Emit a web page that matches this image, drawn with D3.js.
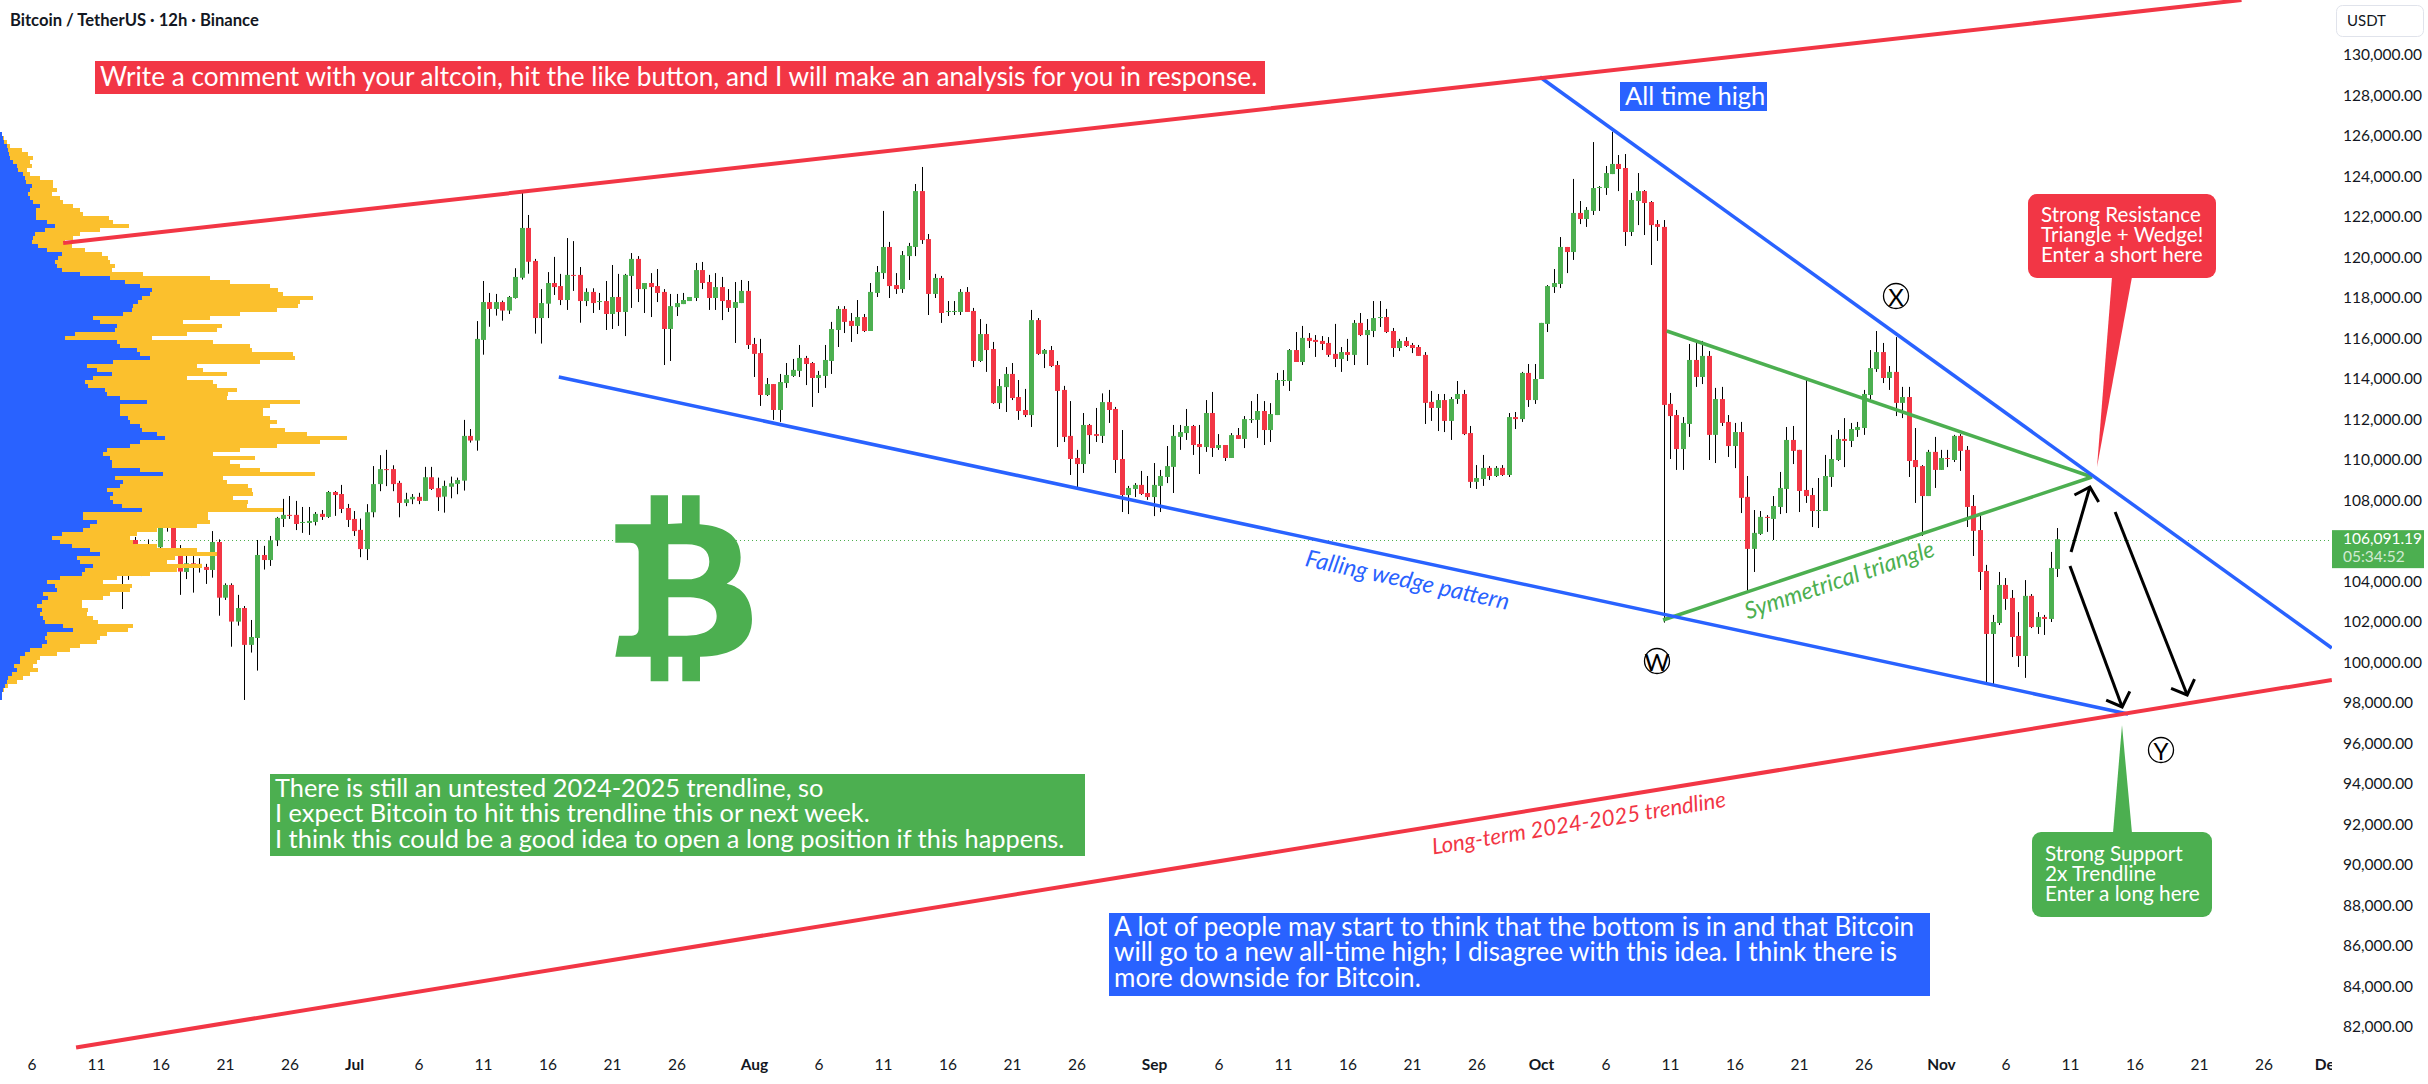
<!DOCTYPE html>
<html>
<head>
<meta charset="utf-8">
<script src="https://cdn.jsdelivr.net/npm/d3@7"></script>
<style>
  body { margin: 0; background: #fff; }
  text { font-family: Lato, "Open Sans", sans-serif; }
</style>
</head>
<body>
<div id="chart"></div>
<script>
//velas 12h, la primera es el 12 jun 12:00 UTC
const firstCandle = "2025-06-12T12:00:00Z"
const opens = [
  106710,106100,105390,106050,105480,105640,105560,105690,107040,106870,
  105640,104470,104900,104870,104720,104570,105950,103200,103830,102020,
  102690,100870,101210,105310,105060,106030,107090,107290,107290,106890,
  106890,106940,107340,107190,108420,108320,107630,107090,106550,105600,
  107420,108810,109550,109550,108870,107880,108060,108180,107980,109150,
  108610,108190,108680,108820,108980,111190,110960,115930,117800,117460,
  117800,117380,118000,119000,121460,119830,117010,117720,118740,118590,
  117900,119140,119140,117850,118300,117800,117850,117210,118050,117310,
  119090,119930,118440,118740,118590,118300,116470,117550,117700,117850,
  118000,119380,118790,118000,118540,117900,117510,117750,118350,115730,
  115280,113210,113750,112470,113800,114150,114400,115040,114790,114050,
  114150,114890,116420,117460,116870,116620,117060,116370,118250,119230,
  120520,118640,118440,120070,120520,123280,120910,118200,118990,117310,
  117310,117310,118300,117360,114890,116220,115480,112810,113600,114250,
  113110,112470,112220,116910,115240,115430,114690,113460,111190,110100,
  109800,111730,111280,111190,112860,112520,110050,108270,108570,108770,
  108370,108170,108720,109160,109660,111140,111330,111680,110790,110640,
  112320,110590,110740,110100,111230,111040,111980,111980,112420,111480,
  112220,113900,113900,115430,114840,116030,115930,115880,115780,115240,
  114990,115330,115190,116770,116170,116370,117010,117060,116370,115530,
  115880,115680,115580,115190,112870,112570,112960,111930,113010,113260,
  111330,108920,109060,109610,109210,109610,109260,112120,112020,114300,
  112960,114000,116720,118540,118690,120520,120270,122200,121900,122300,
  123430,123430,124120,124620,124420,121260,122790,123280,122740,121650,
  121510,112770,112220,110540,111780,114940,114100,115140,111240,113010,
  111880,110690,111380,108180,105610,106350,107190,107090,107680,108570,
  110990,110500,108520,108270,107480,107480,109160,110000,111040,110940,
  111480,111580,113210,114490,115330,114050,114350,112820,113110,110000,
  109700,108220,110400,109510,110100,110000,111190,110500,107730,106540,
  104520,101410,101950,103830,103190,101310,100320,103290,101750,102250,
  102150,104620
]
const highs = [
  106790,106220,106150,106200,105760,106080,105800,107200,107120,107040,
  105800,105310,105260,105150,104870,106490,106080,103910,103910,103340,
  102790,102100,106050,105760,106250,107190,108080,108220,107980,107680,
  107680,107430,107530,108470,108470,108770,107830,107480,107110,107820,
  109700,110240,110500,109740,108970,108380,108320,108380,109660,109660,
  109130,108980,109180,109130,111980,111530,116860,118840,118250,118200,
  117870,118100,119470,123190,122100,119930,118440,119280,120030,119190,
  120960,120810,119530,118480,118480,118250,118840,119630,119190,119190,
  120220,120070,118740,119230,119430,118440,118200,118200,118250,118050,
  119730,119780,119140,119230,119040,118440,118790,118890,118840,116030,
  115980,114050,113750,114250,114790,114990,115680,115140,114840,114400,
  115680,116820,117600,117600,117260,117900,117210,118740,119580,122300,
  120770,119230,120320,120720,123630,124470,121160,119190,119090,117850,
  117850,118440,118540,117510,116960,116720,115830,114000,114590,114790,
  113950,113510,117410,117010,115480,115630,114890,113660,112910,110500,
  112320,111780,112570,113290,113460,112620,111480,108720,108860,109460,
  109210,109850,109510,110690,111730,111730,112520,111730,111730,112960,
  113360,111280,110740,111330,111580,112170,112910,113260,112910,112810,
  114300,114440,115480,116320,116620,116270,116170,116120,116070,116720,
  115580,115980,116910,117260,116960,117850,117850,117460,116520,115980,
  116070,115780,115680,115330,113410,113260,113260,113110,113900,113460,
  111680,109750,110250,109700,109700,109750,112320,112370,114350,114740,
  114740,116770,118640,119430,121010,120520,123880,122790,122490,125700,
  123530,124520,126210,125060,125110,123190,124170,123330,122790,121850,
  121850,113310,112470,112120,115730,115930,115880,115380,113560,113610,
  112220,111830,111880,109210,107530,107480,107280,108220,109410,111630,
  111680,110500,113950,108620,109110,110250,111240,111480,112070,111830,
  111880,113460,115430,116370,115780,114640,116070,113610,113610,111580,
  109750,110500,111140,110500,110500,111240,111280,110690,108270,107280,
  104820,102350,104470,104170,103580,102490,104070,103380,102490,102350,
  105460,106640
]
const lows = [
  105970,102640,104080,104570,104270,104650,104570,105480,106460,105480,
  103340,104120,103450,104440,103880,104190,102310,103090,100780,101820,
  98150,100490,99600,104590,104770,105750,106690,107090,106540,106400,
  106300,106770,107040,107140,107240,107380,106690,106250,105200,105060,
  107170,108460,108710,108460,107170,107720,107820,107820,107980,108520,
  107480,107400,108110,108310,108490,110860,110460,115200,116580,117130,
  116880,117210,117970,118910,119200,116240,115750,117010,118150,117650,
  117410,118350,116780,117600,117260,117410,116420,116470,116620,116120,
  117510,117800,117260,117060,117800,114690,114890,117110,117700,117850,
  117850,118440,117410,117410,116910,117310,115780,117750,115480,114100,
  112670,113160,111980,111880,113560,114100,114100,113700,112620,113310,
  113560,114250,115580,116270,115830,116220,116320,116370,118050,118940,
  118000,118200,118250,118890,120070,120670,117160,118000,116770,117110,
  117160,117160,117310,114590,114840,114350,112770,112520,112370,112960,
  111980,112120,111630,115190,114540,114590,110640,110890,109260,108620,
  109360,110300,110890,110840,111830,109360,107430,107330,108170,108270,
  108030,107230,107430,108860,108370,110500,110990,110250,109310,110400,
  110150,110500,109950,110100,111040,110590,111830,111090,110740,110890,
  112220,113660,113410,114840,114690,115530,115090,115430,115090,114590,
  114350,114890,114690,116120,114690,116070,116570,116270,115090,115380,
  115580,115280,115140,111780,111930,111430,111380,110990,112770,111230,
  108620,108570,108720,109010,109160,109210,109160,111530,111880,112620,
  112770,114000,116320,118250,118490,119230,119880,121650,121510,122100,
  122300,123090,124120,123280,120570,121060,121600,121110,119630,120820,
  101970,110050,109510,109510,111140,113610,113750,110000,109850,111680,
  110150,109600,107380,103480,104470,106300,106450,106050,107330,107380,
  109800,107430,107880,106690,106640,107480,108670,109950,109650,110640,
  111140,111240,112870,114350,113800,113460,112170,112070,109160,107880,
  106250,108220,108620,109510,109650,109900,109460,106690,105260,103580,
  98890,98940,101850,102600,100270,99780,99240,101700,101410,101360,
  102000,104220
]
const closes = [
  106100,105390,106050,105480,105640,105560,105060,107040,106790,105640,
  104490,104900,104820,104690,104570,105950,103200,103830,102020,102690,
  100870,101260,105310,105060,106030,107140,107290,107240,106840,106940,
  106990,107340,107190,108420,108270,107580,107040,106490,105600,107420,
  108810,109550,109530,108810,107880,108060,108180,107980,109150,108570,
  108160,108720,108850,109010,111190,110960,115980,117800,117460,117800,
  117380,118050,119040,121460,119790,117010,117750,118740,118540,117900,
  119140,119100,117850,118300,117750,117850,117210,118050,117310,119140,
  119930,118440,118740,118540,118250,116470,117600,117750,117900,118050,
  119380,118740,118000,118540,117850,117510,117800,118350,115680,115240,
  113210,113750,112470,113850,114200,114450,115040,114740,114050,114200,
  114940,116470,117460,116820,116620,117060,116370,118300,119280,120520,
  118590,118440,120120,120570,123280,120860,118200,118990,117260,117360,
  117360,118300,117310,114890,116220,115430,112810,113650,114250,113060,
  112420,112220,116910,115240,115430,114640,113410,111140,110050,109800,
  111730,111230,111190,112860,112470,110000,108270,108620,108770,108320,
  108170,108770,109210,109700,111190,111380,111680,110740,110640,112320,
  110590,110740,110100,111230,111040,112020,112020,112420,111480,112270,
  113950,113950,115430,114840,116030,115880,115830,115730,115190,114990,
  115330,115190,116770,116170,116420,117010,117060,116320,115530,115880,
  115630,115530,115140,112820,112570,112960,111930,113010,113260,111280,
  108920,109110,109610,109210,109610,109260,112120,112020,114300,112960,
  114000,116770,118590,118740,120520,120270,122200,121900,122350,123430,
  123480,124170,124620,124370,121260,122840,123280,122690,121600,121510,
  112720,112170,110540,111830,114940,114100,115140,111240,113010,111830,
  110690,111380,108130,105610,106400,107190,107140,107730,108620,110990,
  110450,108470,108220,107480,107530,109210,110050,111040,110940,111530,
  111630,113260,114540,115330,114050,114350,112820,113110,109950,109650,
  108220,110400,109510,110100,110050,111190,110450,107680,106500,104470,
  101410,102000,103830,103140,101260,100320,103290,101750,102250,102150,
  104670,106091
]

//perfil de volumen: filas de precio, compra y total
const profileTop = 126198
const profileStep = 197.5
const volBuy = [
  5,8,12,20,25,28,30,40,50,55,70,75,78,95,90,85,90,100,120,108,108,108,140,165,135,
  105,100,95,115,140,185,175,165,170,185,240,330,375,420,455,450,425,415,400,395,370,
  280,300,350,345,225,195,350,360,410,420,450,340,260,290,335,280,255,265,315,320,360,
  440,360,360,360,385,390,420,
  425,470,495,420,390,320,310,330,335,335,420,490,345,370,360,320,340,330,340,365,425,
  250,250,290,270,250,185,155,180,215,270,300,230,240,280,255,245,180,140,165,170,130,
  145,125,110,125,120,130,135,190,220,140,135,140,125,90,75,60,60,42,50,35,25,22,15,10,5,5
]
const volTotal = [
  7,12,22,30,65,85,100,90,95,82,90,120,158,160,170,155,180,188,220,240,250,328,340,388,300,
  240,218,195,215,255,305,325,330,345,335,430,630,690,810,835,850,940,900,895,830,720,
  630,550,665,650,560,455,640,750,755,878,885,780,590,610,680,560,640,650,710,685,680,
  900,810,790,790,810,830,810,
  855,920,1040,960,830,720,640,765,690,720,780,945,670,680,745,755,760,700,745,740,850,
  625,625,630,590,470,410,390,400,470,590,650,525,500,605,530,450,350,310,395,390,330,
  310,245,245,265,260,280,295,400,385,320,300,290,240,210,170,120,110,100,115,90,70,50,25,12,5,5
]

//ejes
const priceTicks = [82000,84000,86000,88000,90000,92000,94000,96000,98000,100000,102000,104000,106000,108000,110000,112000,114000,116000,118000,120000,122000,124000,126000,128000,130000]
const tickMonths = ["06","07","08","09","10","11"]
const tickDays = ["06","11","16","21","26"]
const lastPrice = 106091.19
const countdown = "05:34:52"

//directrices [fecha, precio]
const redTop = [["2025-06-08T11:00:00Z",120717],["2025-11-24T07:00:00Z",132716]]
const redBottom = [["2025-06-09T11:00:00Z",80990],["2025-12-01T07:00:00Z",99138]]
const blueTop = [["2025-09-30T22:00:00Z",128914],["2025-12-01T07:00:00Z",100717]]
const blueBottom = [["2025-07-16T21:00:00Z",114100],["2025-11-15T12:00:00Z",97458]]
const greenTop = [["2025-10-10T18:00:00Z",116371],["2025-11-12T17:00:00Z",109161]]
const greenBottom = [["2025-10-10T11:00:00Z",102100],["2025-11-12T17:00:00Z",109161]]
const arrowUp = [["2025-11-11T02:00:00Z",105458],["2025-11-12T13:00:00Z",108668]]
const arrowDown1 = [["2025-11-11T00:00:00Z",104767],["2025-11-15T01:00:00Z",97804]]
const arrowDown2 = [["2025-11-14T12:00:00Z",107433],["2025-11-20T02:00:00Z",98397]]

//colores
const red = "#f23645"
const green = "#4caf50"
const blue = "#2962ff"
const yellow = "#fbc02d"
const ink = "#131722"

//márgenes
const width = 2428
const height = 1084
const plotRight = 2332

//agrupaciones
const svg = d3.select("#chart").append("svg").attr("width", width).attr("height", height).style("display", "block")
svg.append("defs").append("clipPath").attr("id", "plotClip")
  .append("rect").attr("x", 0).attr("y", 0).attr("width", plotRight).attr("height", height)
const marker = svg.select("defs").append("marker").attr("id", "head")
  .attr("viewBox", "-20 -20 40 40").attr("markerWidth", 40).attr("markerHeight", 40)
  .attr("markerUnits", "userSpaceOnUse").attr("orient", "auto").attr("refX", 0).attr("refY", 0)
marker.append("path").attr("d", "M-12,-12.6L0,0L-12,12.6").attr("fill", "none").attr("stroke", "#000").attr("stroke-width", 3)

const plot = svg.append("g").attr("clip-path", "url(#plotClip)")

//escalas
const x = d3.scaleUtc().domain([new Date("2025-07-01T00:00:00Z"), new Date("2025-11-11T00:00:00Z")]).range([354, 2070])
const y = d3.scaleLinear().domain([82000, 130000]).range([1027, 55])
const xVol = d3.scaleLinear().domain([0, 1080]).range([0, 360])

//ejes
const tickDates = []
tickMonths.forEach(m => {
  if (m !== "06") tickDates.push(new Date(`2025-${m}-01T00:00:00Z`))
  tickDays.forEach(d => tickDates.push(new Date(`2025-${m}-${d}T00:00:00Z`)))
})
tickDates.push(new Date("2025-12-01T00:00:00Z"))
const xAxis = d3.axisBottom(x).tickValues(tickDates).tickSize(0).tickPadding(0)
  .tickFormat(d => d.getUTCDate() === 1 ? d3.utcFormat("%b")(d) : d.getUTCDate())
const yAxis = d3.axisRight(y).tickValues(priceTicks).tickSize(0).tickPadding(0).tickFormat(d3.format(",.2f"))

const xAxisGroup = plot.append("g").attr("transform", "translate(0,1059)").call(xAxis)
xAxisGroup.select(".domain").remove()
xAxisGroup.selectAll("text").attr("font-size", 15.5).attr("fill", ink)
  .attr("font-weight", d => d.getUTCDate() === 1 ? "bold" : "normal")
const yAxisGroup = svg.append("g").attr("transform", "translate(2343,0)").call(yAxis)
yAxisGroup.select(".domain").remove()
yAxisGroup.selectAll("text").attr("font-size", 15.5).attr("fill", ink)

//linea de precio actual
plot.append("line").attr("x1", 0).attr("x2", plotRight).attr("y1", Math.ceil(y(lastPrice)) + 0.5).attr("y2", Math.ceil(y(lastPrice)) + 0.5)
  .attr("stroke", green).attr("stroke-width", 1).attr("stroke-dasharray", "1 3")

//velas
const candleData = closes.map((c, i) => ({
  date: new Date(new Date(firstCandle).getTime() + i * 12 * 3600 * 1000),
  open: opens[i], high: highs[i], low: lows[i], close: c
}))
const candles = plot.append("g").selectAll("g").data(candleData).enter().append("g")
candles.append("line")
  .attr("x1", d => Math.round(x(d.date)) + 0.5).attr("x2", d => Math.round(x(d.date)) + 0.5)
  .attr("y1", d => y(d.high)).attr("y2", d => y(d.low))
  .attr("stroke", "#000").attr("stroke-width", 1)
candles.append("rect")
  .attr("x", d => Math.round(x(d.date)) - 2)
  .attr("y", d => y(Math.max(d.open, d.close)))
  .attr("width", 5)
  .attr("height", d => Math.max(1, Math.abs(y(d.open) - y(d.close))))
  .attr("fill", d => d.close >= d.open ? green : red)

//perfil de volumen
const profileData = volTotal.map((t, i) => ({ price: profileTop - i * profileStep, buy: volBuy[i], total: t }))
const profile = plot.append("g").attr("shape-rendering", "crispEdges")
const rowHeight = y(0) - y(profileStep)
profile.selectAll(".total").data(profileData).enter().append("rect").attr("class", "total")
  .attr("x", 0).attr("y", d => y(d.price)).attr("width", d => xVol(d.total)).attr("height", rowHeight + 0.5).attr("fill", yellow)
profile.selectAll(".buy").data(profileData).enter().append("rect").attr("class", "buy")
  .attr("x", 0).attr("y", d => y(d.price)).attr("width", d => xVol(d.buy)).attr("height", rowHeight + 0.5).attr("fill", blue)

//logo
plot.append("path")
  .attr("transform", "translate(590,480) scale(0.3333)")
  .attr("fill", green).attr("fill-rule", "evenodd")
  .attr("d", "M182,46H234V132L276,130V46H329V133C400,138,452,165,452,232C452,270,435,298,410,311C455,320,486,355,486,418C486,490,430,530,330,530V604H277V530H235V604H182V530H76L87,467H125C140,467,146,458,146,445V215C146,198,135,188,120,188H76V133H182Z" +
    "M235,193H290C335,193,358,212,358,245C358,280,330,298,290,298H235Z" +
    "M235,352H290C350,352,380,375,380,408C380,445,345,467,290,467H235Z")

//directrices
const line = d3.line().x(d => x(new Date(d[0]))).y(d => y(d[1]))
const drawLine = (pts, color, w) => plot.append("path").attr("d", line(pts)).attr("fill", "none").attr("stroke", color).attr("stroke-width", w)
drawLine(greenTop, green, 3.5)
drawLine(greenBottom, green, 3.5)
drawLine(blueTop, blue, 3.5)
drawLine(blueBottom, blue, 3.5)
drawLine(redTop, red, 4)
drawLine(redBottom, red, 4)
;[arrowUp, arrowDown1, arrowDown2].forEach(a => drawLine(a, "#000", 3).attr("marker-end", "url(#head)"))

//notas
const note = (bx, by, bw, bh, fill, size, tx, baselines, lines) => {
  svg.append("rect").attr("x", bx).attr("y", by).attr("width", bw).attr("height", bh).attr("fill", fill)
  lines.forEach((l, i) => svg.append("text").attr("x", tx).attr("y", baselines[i]).attr("font-size", size).attr("fill", "#fff").text(l))
}
note(95, 61, 1170, 33, red, 26.2, 100, [86], ["Write a comment with your altcoin, hit the like button, and I will make an analysis for you in response."])
note(1620, 82, 147, 29, blue, 25.5, 1625, [105], ["All time high"])
note(270, 774, 815, 82, green, 25.4, 275, [797, 822, 848], [
  "There is still an untested 2024-2025 trendline, so",
  "I expect Bitcoin to hit this trendline this or next week.",
  "I think this could be a good idea to open a long position if this happens."])
note(1109, 913, 821, 83, blue, 26, 1114, [936, 961, 987], [
  "A lot of people may start to think that the bottom is in and that Bitcoin",
  "will go to a new all-time high; I disagree with this idea. I think there is",
  "more downside for Bitcoin."])

//globos
const callout = (bx, by, bw, bh, fill, tail, size, tx, baselines, lines) => {
  svg.append("path").attr("d", d3.line()(tail)).attr("fill", fill)
  svg.append("rect").attr("x", bx).attr("y", by).attr("width", bw).attr("height", bh).attr("rx", 9).attr("fill", fill)
  lines.forEach((l, i) => svg.append("text").attr("x", tx).attr("y", baselines[i]).attr("font-size", size).attr("fill", "#fff").text(l))
}
callout(2028, 194, 188, 84, red, [[2112, 277], [2132, 277], [2097, 467]], 20.6, 2041, [222, 242, 262], ["Strong Resistance", "Triangle + Wedge!", "Enter a short here"])
callout(2032, 832, 180, 85, green, [[2113, 833], [2132, 833], [2122, 725]], 20.8, 2045, [861, 881, 901], ["Strong Support", "2x Trendline", "Enter a long here"])

//etiquetas giradas
const slanted = (cx, cy, angle, color, size, label) => svg.append("text")
  .attr("transform", `translate(${cx},${cy}) rotate(${angle})`)
  .attr("text-anchor", "middle").attr("dominant-baseline", "middle")
  .attr("font-size", size).attr("font-style", "italic").attr("fill", color).text(label)
slanted(1407, 582, 12.2, blue, 23.5, "Falling wedge pattern")
slanted(1840, 582, -18.7, green, 23.4, "Symmetrical triangle")
slanted(1579, 825, -9.3, red, 22.2, "Long-term 2024-2025 trendline")

//ondas
const wave = (cx, cy, label) => {
  svg.append("circle").attr("cx", cx).attr("cy", cy).attr("r", 12.5).attr("fill", "#fff").attr("stroke", "#000").attr("stroke-width", 1.3)
  svg.append("text").attr("x", cx).attr("y", cy).attr("text-anchor", "middle").attr("dominant-baseline", "central")
    .attr("font-size", 24).attr("fill", "#000").text(label)
}
wave(1657, 661, "W")
wave(1896, 296, "X")
wave(2161, 750, "Y")

//titulo
svg.append("text").attr("x", 10).attr("y", 26).attr("font-size", 16.6).attr("font-weight", "bold").attr("fill", ink).text("Bitcoin / TetherUS · 12h · Binance")

//escala derecha
svg.append("rect").attr("x", 2336.5).attr("y", 5.5).attr("width", 87).attr("height", 31).attr("rx", 6).attr("fill", "#fff").attr("stroke", "#e0e3eb")
svg.append("text").attr("x", 2347).attr("y", 26).attr("font-size", 15).attr("fill", ink).text("USDT")
svg.append("rect").attr("x", plotRight).attr("y", y(lastPrice) - 9).attr("width", 92).attr("height", 38).attr("fill", green)
svg.append("text").attr("x", 2343).attr("y", y(lastPrice) + 5).attr("font-size", 15.5).attr("fill", "#fff").text(d3.format(",.2f")(lastPrice))
svg.append("text").attr("x", 2343).attr("y", y(lastPrice) + 23).attr("font-size", 15.5).attr("fill", "#fff").attr("fill-opacity", 0.75).text(countdown)
</script>
</body>
</html>
